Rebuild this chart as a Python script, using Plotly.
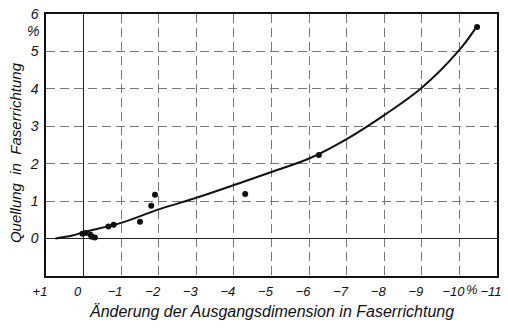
import plotly.graph_objects as go

# Fitted swelling curve (smooth line)
curve_x = [0.75, 0.3, 0, -1, -2, -3, -4, -5, -6, -7, -8, -9, -10, -10.45]
curve_y = [0.0, 0.08, 0.17, 0.42, 0.78, 1.09, 1.43, 1.78, 2.14, 2.66, 3.3, 4.03, 5.04, 5.65]

# Measured points
meas_x = [0.03, -0.05, -0.18, -0.22, -0.3, -0.66, -0.8, -1.5, -1.8, -1.9, -4.3, -6.26, -10.47]
meas_y = [0.13, 0.15, 0.1, 0.05, 0.03, 0.32, 0.37, 0.45, 0.88, 1.17, 1.19, 2.23, 5.65]

# Axis ticks
x_ticks = [1, 0, -1, -2, -3, -4, -5, -6, -7, -8, -9, -10, -11]
x_labels = ["+1", "0", "−1", "−2", "−3", "−4", "−5", "−6", "−7", "−8", "−9", "−10", "−11"]
y_ticks = [0, 1, 2, 3, 4, 5, 6]
y_labels = ["0", "1", "2", "3", "4", "5", "6"]

FONT = "Liberation Sans, sans-serif"
tick_font = dict(family=FONT, size=14, color="#111", style="italic")
xtick_font = dict(family=FONT, size=13, color="#111", style="italic")
title_font = dict(family=FONT, size=16, color="#111", style="italic")

fig = go.Figure()

fig.add_trace(go.Scatter(
    x=curve_x, y=curve_y, mode="lines",
    line=dict(color="#111", width=2, shape="spline", smoothing=1.0),
    hoverinfo="skip", showlegend=False,
))
fig.add_trace(go.Scatter(
    x=meas_x, y=meas_y, mode="markers",
    marker=dict(color="#111", size=6),
    showlegend=False,
))

grid_style = dict(gridcolor="#777", gridwidth=1, griddash="9px,5px")

# reversed axis: a positive label shift moves labels to the left
fig.update_xaxes(
    range=[1, -11], tickvals=x_ticks, ticktext=x_labels,
    showline=True, linecolor="#111", linewidth=1.5, mirror=True,
    ticks="", tickfont=xtick_font, ticklabelshift=6, ticklabelstandoff=3,
    ticklabeloverflow="allow",
    zeroline=True, zerolinecolor="#222", zerolinewidth=1.2,
    **grid_style,
)
fig.update_yaxes(
    range=[-1, 6], tickvals=y_ticks, ticktext=y_labels,
    showline=True, linecolor="#111", linewidth=1.5, mirror=True,
    ticks="", tickfont=tick_font, ticklabelstandoff=3,
    zeroline=True, zerolinecolor="#222", zerolinewidth=1.2,
    **grid_style,
)

annotations = [
    # unit marks
    dict(x=0, y=5.55, xref="paper", yref="y", text="%", showarrow=False,
         xanchor="right", xshift=-5, font=tick_font),
    dict(x=-10.33, y=-1, xref="x", yref="y", text="%", showarrow=False,
         yanchor="top", yshift=-4, font=xtick_font),
    # axis titles
    dict(x=0.5, y=-0.137, xref="paper", yref="paper", yanchor="middle",
         text="Änderung der Ausgangsdimension in Faserrichtung", showarrow=False,
         font=title_font),
    dict(x=-0.066, y=0.47, xref="paper", yref="paper", xanchor="center",
         text="Quellung  in  Faserrichtung", textangle=-90, showarrow=False,
         font=dict(family=FONT, size=15, color="#111", style="italic")),
]

fig.update_layout(
    width=508, height=328,
    margin=dict(l=46, r=6, t=14, b=52),
    paper_bgcolor="white", plot_bgcolor="white",
    annotations=annotations,
)

fig.write_html("out.html")
